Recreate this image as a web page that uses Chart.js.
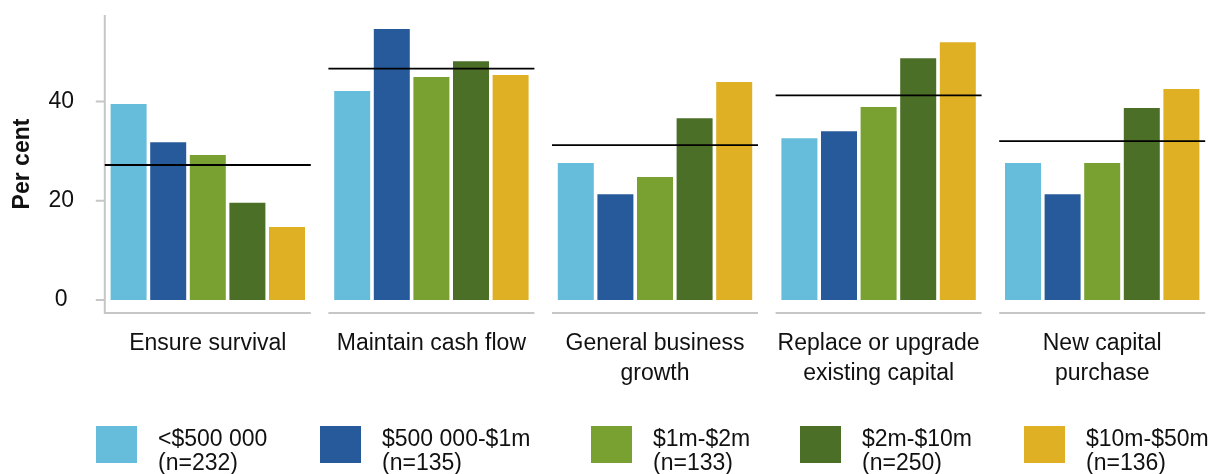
<!DOCTYPE html>
<html>
<head>
<meta charset="utf-8">
<script src="https://cdn.jsdelivr.net/npm/chart.js@4.4.1/dist/chart.umd.min.js"></script>
<style>
  html, body { margin: 0; padding: 0; background: #fff; overflow: hidden; }
  #wrap { position: relative; width: 1214px; height: 474px; }
  #legend { position: absolute; left: 0; top: 0; width: 1214px; height: 474px; pointer-events: none;
            font-family: "Liberation Sans", Arial, sans-serif; font-size: 23px; line-height: 24px; color: #111; }
  .item { position: absolute; top: 426px; }
  .swatch { position: absolute; left: 0; top: 0; width: 41px; height: 37px; }
  .label { position: absolute; left: 62px; top: 0; white-space: nowrap; }
</style>
</head>
<body>
<div id="wrap">
  <canvas id="c" width="1214" height="474"></canvas>
  <div id="legend"></div>
</div>
<script>
  // data
  const categories = [
    ['Ensure survival'],
    ['Maintain cash flow'],
    ['General business', 'growth'],
    ['Replace or upgrade', 'existing capital'],
    ['New capital', 'purchase'],
  ];
  const seriesNames = ['<$500 000', '$500 000-$1m', '$1m-$2m', '$2m-$10m', '$10m-$50m'];
  const seriesN = ['(n=232)', '(n=135)', '(n=133)', '(n=250)', '(n=136)'];
  const under500k = [39.5, 42.1, 27.6, 32.6, 27.6];
  const from500kTo1m = [31.8, 54.6, 21.3, 34.0, 21.3];
  const from1mTo2m = [29.2, 44.9, 24.8, 38.9, 27.6];
  const from2mTo10m = [19.6, 48.1, 36.6, 48.7, 38.7];
  const from10mTo50m = [14.7, 45.3, 43.9, 51.9, 42.5];
  const average = [27.2, 46.6, 31.2, 41.2, 32.0];
  const yTicks = [0, 20, 40];

  const colors = ['#66bcdb', '#265a9a', '#79a131', '#4b6f27', '#dfb023'];
  const seriesValues = [under500k, from500kTo1m, from1mTo2m, from2mTo10m, from10mTo50m];
  const FONT = '"Liberation Sans", Arial, sans-serif';
  const AXIS_GREY = '#c6c6c6';
  const HALF_PANEL = 103;   // half width of each facet's base line
  const legendX = [96, 320, 591, 800, 1024];

  // facet style axis: broken x base, y axis line + ticks, average lines
  const facetPlugin = {
    id: 'facets',
    afterDatasetsDraw(chart) {
      const {ctx, chartArea} = chart;
      const xs = chart.scales.x, ys = chart.scales.y;
      ctx.save();
      ctx.lineCap = 'butt';

      const x0 = xs.getPixelForValue(0) - HALF_PANEL;
      ctx.strokeStyle = AXIS_GREY;
      ctx.lineWidth = 2;
      ctx.beginPath();
      ctx.moveTo(x0, chartArea.top);
      ctx.lineTo(x0, chartArea.bottom + 1);
      yTicks.forEach(v => {
        const y = ys.getPixelForValue(v);
        ctx.moveTo(x0 - 9, y);
        ctx.lineTo(x0, y);
      });
      categories.forEach((c, i) => {
        const cx = xs.getPixelForValue(i);
        ctx.moveTo(cx - HALF_PANEL, chartArea.bottom);
        ctx.lineTo(cx + HALF_PANEL, chartArea.bottom);
      });
      ctx.stroke();

      ctx.strokeStyle = '#000';
      ctx.lineWidth = 1.8;
      ctx.beginPath();
      average.forEach((v, i) => {
        const cx = xs.getPixelForValue(i);
        const y = ys.getPixelForValue(v);
        ctx.moveTo(cx - HALF_PANEL, y);
        ctx.lineTo(cx + HALF_PANEL, y);
      });
      ctx.stroke();
      ctx.restore();
    }
  };

  new Chart(document.getElementById('c'), {
    type: 'bar',
    data: {
      labels: categories,
      datasets: seriesValues.map((d, i) => ({
        label: seriesNames[i],
        data: d,
        backgroundColor: colors[i],
        borderWidth: 0,
        categoryPercentage: 0.8855,
        barPercentage: 0.909,
      })),
    },
    options: {
      responsive: false,
      animation: false,
      devicePixelRatio: 1,
      layout: { padding: { top: 15, left: 0, right: 0, bottom: 0 } },
      plugins: { legend: { display: false }, tooltip: { enabled: false } },
      scales: {
        x: {
          offset: true,
          grid: { display: false, drawTicks: false },
          border: { display: false },
          ticks: { color: '#111', font: { family: FONT, size: 23, lineHeight: 1.28 }, padding: 16, maxRotation: 0, autoSkip: false },
          afterFit: s => { s.height = 161; s.paddingLeft = 0; s.paddingRight = 0; },
        },
        y: {
          min: -2.6,
          max: 57.4,
          grid: { display: false, drawTicks: false },
          border: { display: false },
          afterBuildTicks: s => { s.ticks = yTicks.map(v => ({ value: v })); },
          ticks: { color: '#111', font: { family: FONT, size: 23 }, padding: 22, crossAlign: 'center' },
          title: { display: true, text: 'Per cent', color: '#111', font: { family: FONT, size: 23, weight: 'bold' }, padding: { top: 9, bottom: 0 } },
          afterFit: s => { s.width = 96; s.paddingTop = 0; s.paddingBottom = 0; },
        },
      },
    },
    plugins: [facetPlugin],
  });

  // legend
  const legend = document.getElementById('legend');
  seriesNames.forEach((name, i) => {
    const item = document.createElement('div');
    item.className = 'item';
    item.style.left = legendX[i] + 'px';
    const sw = document.createElement('div');
    sw.className = 'swatch';
    sw.style.background = colors[i];
    const lab = document.createElement('div');
    lab.className = 'label';
    lab.appendChild(document.createTextNode(name));
    lab.appendChild(document.createElement('br'));
    lab.appendChild(document.createTextNode(seriesN[i]));
    item.appendChild(sw);
    item.appendChild(lab);
    legend.appendChild(item);
  });
</script>
</body>
</html>
